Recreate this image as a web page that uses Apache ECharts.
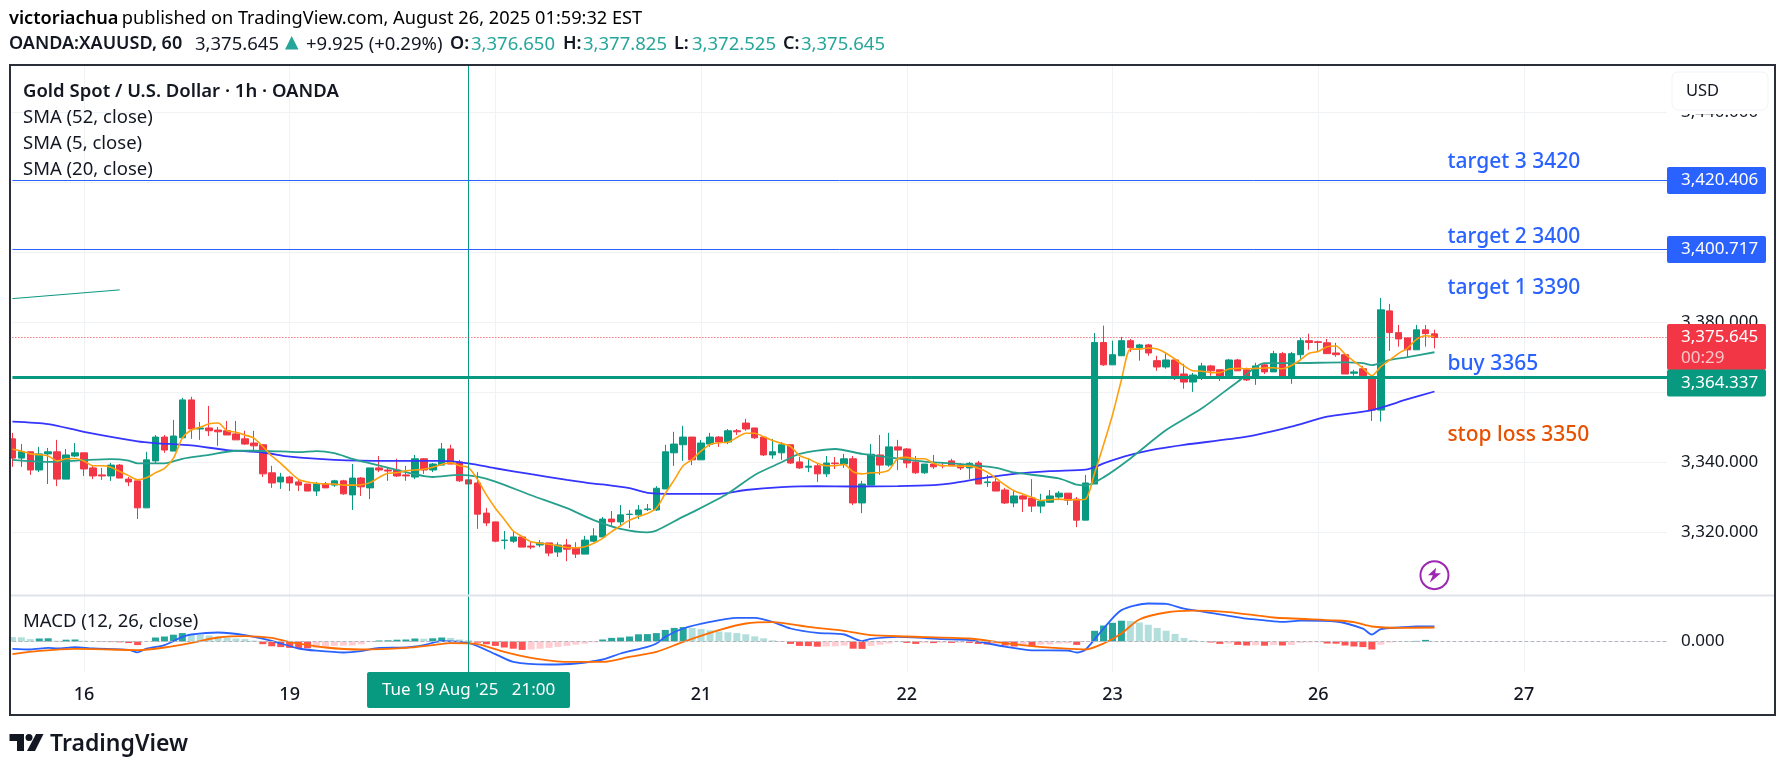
<!DOCTYPE html>
<html>
<head>
<meta charset="utf-8">
<title>OANDA:XAUUSD</title>
<script src="https://cdn.jsdelivr.net/npm/echarts@6/dist/echarts.min.js"></script>
<style>
html, body { margin: 0; padding: 0; background: #fff; }
#chart { width: 1785px; height: 770px; }
</style>
</head>
<body>
<div id="chart"></div>
<script>
// hourly candles
var opens = [
3346.7,3341.2,3343.0,3337.8,3342.4,3343.0,3335.2,3341.8,3342.7,3338.4,
3336.4,3336.1,3339.2,3335.2,3334.7,3327.0,3340.4,3347.2,3343.2,3347.0,
3357.8,3349.5,3349.8,3349.2,3349.0,3348.1,3346.7,3345.5,3345.0,3337.0,
3334.4,3335.8,3334.4,3333.8,3331.8,3333.8,3333.5,3334.7,3330.7,3335.5,
3332.7,3338.4,3337.8,3337.8,3336.4,3335.8,3341.0,3337.8,3339.2,3343.8,
3340.1,3335.0,3334.1,3325.5,3323.0,3317.7,3317.5,3318.7,3316.1,3316.4,
3317.0,3314.4,3316.4,3315.5,3313.8,3317.5,3318.7,3323.8,3323.0,3325.1,
3325.0,3326.5,3326.4,3332.4,3342.7,3345.0,3347.2,3340.7,3345.2,3347.2,
3345.8,3349.0,3351.2,3349.8,3347.2,3342.1,3342.7,3345.0,3340.1,3338.6,
3339.0,3336.7,3339.8,3339.5,3341.0,3328.4,3333.5,3342.1,3339.2,3344.4,
3343.8,3340.1,3337.0,3339.5,3339.1,3340.4,3339.2,3338.4,3339.8,3334.2,
3334.4,3332.1,3328.4,3330.4,3329.8,3327.5,3328.6,3330.1,3331.2,3329.5,
3323.5,3333.8,3374.2,3367.8,3370.4,3374.7,3372.7,3373.5,3369.0,3367.2,
3369.2,3365.2,3362.9,3363.9,3367.5,3366.4,3364.7,3369.2,3366.4,3364.0,
3367.8,3365.8,3371.0,3364.0,3370.7,3374.7,3374.4,3374.1,3371.2,3370.7,
3365.4,3366.7,3364.0,3354.9,3383.2,3377.0,3375.5,3372.1,3377.8,3376.65];
var closes = [
3341.2,3343.0,3337.8,3342.4,3343.0,3335.2,3342.1,3342.7,3338.1,3336.1,
3336.1,3339.2,3335.5,3334.4,3327.0,3340.7,3347.2,3343.5,3347.5,3357.8,
3349.5,3349.8,3349.0,3348.7,3347.8,3346.4,3345.2,3344.7,3336.7,3334.1,
3335.8,3334.1,3333.5,3331.8,3333.8,3332.7,3334.7,3331.0,3335.5,3333.0,
3338.4,3337.8,3337.5,3336.1,3336.1,3341.0,3337.8,3339.5,3343.8,3339.5,
3334.7,3333.8,3325.2,3322.7,3317.5,3317.8,3318.7,3315.8,3315.8,3317.0,
3314.1,3316.4,3315.2,3313.8,3317.8,3319.0,3323.8,3323.0,3325.0,3325.2,
3326.4,3326.7,3332.6,3343.0,3345.2,3347.2,3340.7,3345.5,3347.2,3345.8,
3349.0,3348.7,3349.5,3347.0,3342.1,3343.0,3345.0,3339.8,3338.4,3338.9,
3336.7,3339.8,3339.6,3341.0,3328.4,3333.8,3342.3,3339.2,3344.4,3343.5,
3339.8,3337.0,3339.5,3338.7,3339.0,3339.0,3338.4,3339.7,3333.8,3334.4,
3331.8,3328.4,3330.4,3329.5,3327.5,3328.9,3330.4,3331.2,3329.2,3323.5,
3334.1,3374.2,3367.8,3370.7,3374.7,3372.7,3373.5,3371.2,3367.2,3369.2,
3364.7,3362.9,3364.9,3367.5,3366.1,3364.1,3369.2,3366.1,3363.5,3367.5,
3365.8,3371.0,3364.4,3371.0,3374.7,3374.2,3374.2,3371.0,3370.7,3365.2,
3365.8,3364.7,3354.9,3383.5,3377.0,3375.2,3372.1,3377.8,3376.7,3375.645];
var lows = [
3338.7,3338.7,3336.4,3337.2,3333.8,3333.2,3335.2,3341.5,3336.1,3335.2,
3335.0,3334.7,3335.5,3333.2,3323.8,3327.0,3339.8,3342.7,3343.2,3347.0,
3346.7,3346.4,3347.5,3344.7,3347.8,3346.4,3345.0,3343.2,3335.8,3332.7,
3332.4,3331.8,3331.8,3331.8,3330.4,3332.7,3333.0,3330.7,3326.4,3330.4,
3329.5,3337.2,3334.7,3335.8,3334.7,3335.2,3336.7,3337.2,3339.2,3339.5,
3334.4,3333.8,3321.0,3321.8,3317.2,3315.2,3317.0,3315.8,3315.2,3315.8,
3313.2,3313.0,3311.8,3312.7,3313.8,3317.2,3318.7,3321.8,3321.8,3321.2,
3323.8,3326.1,3326.1,3332.4,3339.0,3340.4,3339.2,3340.7,3344.4,3344.4,
3345.2,3347.8,3349.0,3346.7,3341.8,3341.0,3340.7,3339.5,3338.1,3337.2,
3334.4,3335.8,3338.1,3338.4,3327.8,3325.5,3333.5,3336.4,3338.7,3337.8,
3338.4,3336.7,3336.7,3338.1,3338.3,3339.0,3337.8,3335.2,3333.8,3333.0,
3331.8,3328.1,3327.2,3325.8,3325.8,3325.5,3328.4,3329.2,3327.8,3321.5,
3323.5,3333.8,3367.5,3367.8,3370.4,3371.5,3369.0,3370.4,3366.1,3366.7,
3363.5,3361.0,3360.1,3363.5,3364.7,3363.2,3364.7,3366.1,3363.2,3362.1,
3365.2,3365.8,3363.8,3362.4,3369.5,3372.1,3371.5,3371.0,3370.1,3365.2,
3364.7,3364.7,3351.8,3351.6,3371.8,3373.0,3369.8,3372.1,3373.0,3372.525];
var highs = [
3348.4,3345.2,3343.0,3344.4,3344.1,3346.4,3343.8,3345.5,3342.7,3339.2,
3338.4,3339.8,3339.5,3335.8,3334.7,3343.0,3347.8,3347.8,3352.1,3358.4,
3358.7,3351.5,3356.1,3350.1,3351.8,3351.8,3349.0,3349.0,3345.2,3339.0,
3337.0,3336.1,3335.2,3333.8,3334.4,3334.4,3335.0,3335.0,3339.5,3335.8,
3338.4,3341.8,3338.4,3341.0,3339.0,3342.1,3341.2,3339.8,3345.5,3345.0,
3340.7,3335.0,3337.2,3327.0,3323.0,3320.4,3320.4,3319.2,3317.5,3317.8,
3317.0,3317.2,3318.1,3317.2,3319.0,3321.2,3324.4,3326.1,3327.8,3326.4,
3327.8,3328.1,3333.2,3345.0,3348.7,3350.4,3347.2,3346.4,3348.4,3347.5,
3349.5,3349.5,3352.4,3349.8,3347.2,3346.7,3345.8,3345.0,3341.5,3341.0,
3339.8,3341.8,3341.5,3342.4,3341.8,3334.7,3345.2,3347.8,3348.4,3346.4,
3344.1,3341.8,3339.5,3342.1,3339.8,3341.0,3339.8,3340.1,3340.4,3336.4,
3335.8,3332.7,3331.8,3330.7,3335.2,3331.0,3332.1,3331.8,3331.2,3330.1,
3336.4,3376.9,3379.0,3374.7,3375.8,3375.2,3373.8,3373.8,3370.4,3371.2,
3369.5,3368.1,3365.5,3368.4,3367.8,3366.4,3369.5,3369.5,3367.0,3368.4,
3368.1,3371.8,3371.5,3371.5,3375.5,3376.7,3374.7,3375.2,3374.1,3370.9,
3366.4,3367.5,3364.7,3386.9,3385.2,3379.2,3375.5,3379.2,3379.2,3377.825];

// SMA 5, one value per bar
var sma5 = [
3343.7,3343.2,3342.4,3342.2,3341.8,3340.4,3341.0,3341.1,3340.4,3339.0,
3339.0,3338.6,3337.4,3336.2,3335.0,3335.6,3337.0,3338.3,3341.1,3346.9,
3349.2,3350.0,3351.0,3351.2,3349.0,3348.6,3347.8,3346.9,3344.5,3341.8,
3339.7,3337.3,3335.1,3334.4,3334.0,3333.8,3333.8,3333.5,3333.5,3333.6,
3334.2,3335.7,3336.9,3337.0,3337.6,3337.8,3338.0,3338.6,3339.4,3339.9,
3339.0,3338.5,3335.1,3330.7,3326.9,3323.7,3320.4,3318.8,3317.3,3316.9,
3316.6,3316.2,3315.7,3315.6,3315.9,3316.9,3318.3,3320.2,3321.9,3323.5,
3324.5,3325.4,3326.9,3331.1,3335.0,3339.0,3340.8,3343.2,3345.1,3345.6,
3345.7,3347.1,3348.3,3348.3,3347.3,3346.2,3345.4,3344.5,3341.9,3341.0,
3339.7,3339.0,3339.0,3339.4,3337.3,3336.7,3337.0,3337.1,3337.8,3341.1,
3341.4,3341.0,3341.0,3339.7,3339.0,3339.0,3338.9,3338.9,3338.3,3337.2,
3335.4,3333.5,3331.9,3330.9,3330.0,3329.1,3329.3,3329.5,3329.3,3329.3,
3329.5,3336.9,3345.0,3353.5,3363.5,3372.3,3372.3,3372.6,3372.3,3371.1,
3369.4,3367.5,3366.1,3366.0,3365.6,3365.6,3366.6,3366.8,3366.7,3366.8,
3366.9,3367.0,3366.7,3367.6,3369.2,3371.1,3371.6,3373.0,3373.2,3370.9,
3368.8,3366.9,3364.7,3367.3,3369.2,3371.1,3372.6,3375.1,3376.1,3375.9];
// SMA 20 and SMA 52 as [bar, price] readings
var sma20 = [[0,3340.7],[4,3340.1],[8,3340.6],[11,3340.9],[13,3340.5],[14,3339.7],[17,3339.7],[19,3341.0],[22,3342.1],[25,3343.3],[27,3343.3],[30,3343.1],[32,3342.9],[34,3343.2],[36,3342.6],[38,3341.0],[40,3339.7],[43,3337.8],[47,3335.8],[50,3336.4],[52,3335.9],[54,3334.5],[58,3330.6],[62,3326.9],[65,3323.5],[68,3321.0],[71,3320.0],[72,3320.5],[75,3324.5],[76,3325.7],[80,3331.1],[83,3336.4],[86,3340.0],[88,3342.4],[92,3343.8],[95,3342.4],[98,3341.4],[102,3340.2],[105,3339.7],[110,3338.4],[112,3337.1],[117,3335.4],[119,3333.6],[120,3333.4],[122,3335.7],[125,3341.1],[129,3349.2],[133,3355.4],[137,3363.0],[140,3368.3],[143,3368.3],[149,3368.5],[151,3368.3],[152,3367.7],[154,3369.2],[156,3370.0],[159,3371.4]];
var sma52 = [[0,3351.6],[4,3350.9],[8,3348.7],[14,3346.0],[16,3345.5],[20,3344.8],[24,3343.5],[28,3342.8],[31,3341.6],[36,3340.7],[42,3340.4],[48,3340.4],[51,3339.7],[54,3338.3],[58,3336.6],[62,3335.0],[65,3333.9],[66,3333.7],[69,3332.6],[71,3331.3],[75,3331.0],[79,3331.0],[82,3332.1],[86,3332.9],[90,3333.2],[94,3333.1],[99,3333.2],[103,3333.5],[105,3334.0],[109,3335.7],[112,3336.7],[116,3337.5],[120,3337.9],[121,3338.6],[122,3339.7],[125,3342.1],[128,3343.8],[131,3345.0],[138,3347.3],[143,3350.2],[147,3353.0],[152,3354.9],[156,3358.0],[159,3360.2]];
var trendLine = [[0,3386.7],[12,3389.2]];

// MACD pane
var macdHist = [
1.1,1.05,.6,.75,.8,.2,.45,.5,.2,.05,
-.1,-.15,-.2,-.4,-.9,-.05,1.0,1.25,1.7,2.1,
1.9,1.75,1.5,1.25,1.0,.75,.6,.25,-.67,-1.2,
-1.4,-1.6,-1.67,-1.7,-1.6,-1.3,-1.1,-1.05,-1.0,-.7,
-.15,.25,.3,.45,.5,.75,.7,.8,1.0,.9,
.5,.3,-.3,-.7,-1.1,-1.5,-1.8,-2.1,-2.0,-1.8,
-1.6,-1.35,-1.1,-.8,-.55,-.2,.5,.9,1.0,1.25,
1.8,1.85,2.1,2.9,3.4,3.6,3.4,3.1,2.8,2.5,
2.3,2.1,1.8,1.3,.8,.3,-.05,-.6,-1.1,-1.15,
-1.3,-1.25,-1.2,-1.0,-1.8,-1.85,-1.1,-.8,-.5,-.05,
-.35,-.6,-.35,-.4,-.3,-.35,-.3,-.35,-.6,-.75,
-.65,-1,-1.25,-.85,-1.25,-.8,-.75,-.5,-.45,-.85,
-.15,2.67,4,4.67,5.2,5.15,4.75,4.2,3.4,2.7,
1.9,.9,.35,.05,-.25,-.6,-.5,-.85,-1,-.95,
-1.05,-.85,-1,-.85,-.35,-.25,-.2,-.5,-.55,-1,
-1.25,-1.4,-2,-.8,-.25,-.1,.05,.15,.4,.1];
var macdLine = [[0,-1.85],[2,-2],[4,-1.6],[5,-1.75],[7,-1.4],[9,-1.75],[13,-2.1],[14,-2.7],[15,-1.8],[17,-.9],[19,1.15],[20,1.75],[23,2.25],[26,1.6],[29,.15],[32,-1.75],[34,-2.3],[37,-2.75],[39,-2.4],[41,-1.6],[44,-1.5],[46,-.9],[48,.1],[51,-.35],[54,-3.15],[56,-5.1],[60,-5.75],[63,-5.5],[66,-4.5],[68,-3],[71,-1.35],[72,-.5],[73,1.15],[75,3.25],[78,4.9],[81,5.9],[83,5.9],[85,4.9],[87,3.25],[90,2.15],[93,1.75],[95,.1],[96,.65],[99,1.15],[104,.6],[107,.35],[111,-1.3],[114,-2.2],[118,-2.25],[119,-2.75],[120,-2],[122,3.25],[124,7.85],[127,9.5],[129,9.4],[131,8.2],[135,6.8],[138,5.7],[140,5.3],[142,4.9],[144,5.2],[148,5],[151,3.2],[152,1.75],[153,3.1],[155,3.5],[157,3.75],[159,3.8]];
var signalLine = [[0,-3.15],[3,-2.35],[7,-1.85],[11,-2],[14,-2.15],[17,-1.5],[20,-.35],[23,1],[26,1.35],[29,.9],[31,-.15],[35,-1.5],[39,-2],[44,-1.6],[47,-.9],[49,-.4],[52,-.65],[55,-2.6],[58,-4.1],[62,-5.1],[66,-5.1],[69,-3.85],[72,-2.6],[75,-.1],[79,2.85],[82,4.5],[85,4.85],[89,3.65],[93,2.65],[96,1.6],[100,1.25],[107,.75],[110,-.1],[114,-1.15],[117,-1.65],[120,-2],[122,-.5],[124,2],[126,5.5],[129,7.25],[132,7.7],[136,7.35],[141,6],[148,5.25],[150,4.85],[152,3.75],[155,3.4],[159,3.5]];

// axis
var barCount = 186;
var tickBars = [8, 31, 54, 77, 100, 123, 146, 169];
var tickLabels = ['16', '19', '', '21', '22', '23', '26', '27'];
var priceTicks = [3320, 3340, 3360, 3380, 3400, 3420, 3440];
var priceLabels = [3320, 3340, 3380, 3440];
var cursorBar = 51;

// drawn levels and notes
var target3 = 3420.406, target2 = 3400.717, buyLevel = 3364.337, lastPrice = 3375.645;
var noteTexts = ['target 3 3420', 'target 2 3400', 'target 1 3390', 'buy 3365', 'stop loss 3350'];
var notePrices = [3425.6, 3404.3, 3389.6, 3368.1, 3347.7];

var FONT = '"Noto Sans", sans-serif';
var INK = '#131722', TEAL = '#26a69a';
var UP = '#089981', DOWN = '#f23645', BLUE = '#2962ff';
var categories = [];
for (var i = 0; i < barCount; i++) {
    categories.push(String(i));
}
var candleData = [];
for (var j = 0; j < opens.length; j++) {
    candleData.push([opens[j], closes[j], lows[j], highs[j]]);
}

function isTick(index) {
    return tickBars.indexOf(index) >= 0;
}
function priceText(v) {
    return v.toLocaleString('en-US', {minimumFractionDigits: 3, maximumFractionDigits: 3});
}
function histColor(params) {
    var v = macdHist[params.dataIndex];
    var prev = params.dataIndex > 0 ? macdHist[params.dataIndex - 1] : v;
    if (v >= 0) {
        return prev < v ? '#26a69a' : '#b2dfdb';
    }
    return prev < v ? '#ffcdd2' : '#ff5252';
}
function tag(price, text, color) {
    return {
        coord: [barCount - 1, price],
        symbolSize: 0,
        label: {
            show: true, position: 'right', distance: 0, formatter: text,
            color: '#fff', fontFamily: FONT, fontSize: 17, backgroundColor: color,
            width: 78, height: 17, lineHeight: 17, padding: [5, 7, 5, 14], borderRadius: 2
        }
    };
}
function note(index) {
    return {
        coord: [160, notePrices[index]],
        symbolSize: 0,
        label: {
            show: true, position: 'right', distance: 4, formatter: noteTexts[index],
            color: index === 4 ? '#e65100' : BLUE, fontFamily: FONT, fontSize: 21, fontWeight: 500
        }
    };
}
function smaSeries(name, data, color, width) {
    return {
        name: name, type: 'line', data: data, xAxisIndex: 0, yAxisIndex: 0,
        symbol: 'none', smooth: 0.25, lineStyle: {color: color, width: width}, silent: true
    };
}
function macdSeries(name, data, color) {
    return {
        name: name, type: 'line', data: data, xAxisIndex: 1, yAxisIndex: 1,
        symbol: 'none', smooth: 0.25, lineStyle: {color: color, width: 1.8}, silent: true
    };
}
function label(x, y, text, weight, color, size) {
    return {
        type: 'text', z: 60, x: x, y: y, silent: true,
        style: {text: text, font: weight + ' ' + size + 'px ' + FONT, fill: color}
    };
}

var lastTag = tag(lastPrice, '3,375.645\n{t|00:29}', DOWN);
lastTag.label.height = 42;
lastTag.label.lineHeight = 21;
lastTag.label.padding = [3, 7, 1, 14];
lastTag.label.offset = [0, 9.5];
lastTag.label.rich = {t: {color: '#fbc4c9', fontFamily: FONT, fontSize: 17, lineHeight: 21}};
var buyTag = tag(buyLevel, priceText(buyLevel), UP);
buyTag.label.offset = [0, 6];

var option = {
    backgroundColor: '#fff',
    animation: false,
    grid: [
        {left: 12.4, right: 118, top: 66, height: 529.3},
        {left: 12.4, right: 118, top: 595.3, height: 76.7}
    ],
    xAxis: [0, 1].map(function (k) {
        return {
            type: 'category', gridIndex: k, data: categories, boundaryGap: false,
            axisLine: {show: false}, axisTick: {show: false},
            splitLine: {show: true, interval: isTick, lineStyle: {color: '#f0f3f5', width: 1}},
            axisLabel: k === 0 ? {show: false} : {
                show: true, interval: isTick, margin: 14, color: INK,
                fontFamily: FONT, fontSize: 18, fontWeight: 500,
                formatter: function (value, index) {
                    return tickLabels[tickBars.indexOf(index)];
                }
            }
        };
    }),
    yAxis: [
        {
            type: 'value', gridIndex: 0, position: 'right', min: 3302.05, max: 3453.08, scale: true,
            axisLine: {show: false},
            axisTick: {show: false, customValues: priceTicks},
            splitLine: {show: true, lineStyle: {color: '#f0f3f5', width: 1}},
            axisLabel: {
                show: true, customValues: priceLabels, margin: 14, color: INK,
                fontFamily: FONT, fontSize: 17, formatter: priceText
            }
        },
        {
            type: 'value', gridIndex: 1, position: 'right', min: -7.625, max: 11.55,
            axisLine: {show: false},
            axisTick: {show: false, customValues: [0]},
            splitLine: {show: false},
            axisLabel: {
                show: true, customValues: [0], margin: 14, color: INK,
                fontFamily: FONT, fontSize: 17, formatter: priceText
            }
        }
    ],
    series: [
        {
            name: 'XAUUSD', type: 'candlestick', data: candleData, xAxisIndex: 0, yAxisIndex: 0,
            barWidth: 7, clip: false, silent: true,
            itemStyle: {color: UP, color0: DOWN, borderColor: UP, borderColor0: DOWN, borderWidth: 1},
            markLine: {
                silent: true, symbol: 'none', animation: false, label: {show: false},
                data: [
                    {xAxis: categories[cursorBar], lineStyle: {color: UP, width: 1, type: 'solid'}},
                    {yAxis: target3, lineStyle: {color: BLUE, width: 1, type: 'solid'}},
                    {yAxis: target2, lineStyle: {color: BLUE, width: 1, type: 'solid'}},
                    {yAxis: lastPrice, lineStyle: {color: DOWN, width: 1, type: [1, 2]}},
                    {yAxis: buyLevel, lineStyle: {color: UP, width: 3, type: 'solid'}},
                    [{coord: trendLine[0], lineStyle: {color: UP, width: 1, type: 'solid'}},
                     {coord: trendLine[1]}]
                ]
            },
            markPoint: {
                silent: true, animation: false,
                data: [
                    note(0), note(1), note(2), note(3), note(4),
                    tag(target3, priceText(target3), BLUE),
                    tag(target2, priceText(target2), BLUE),
                    lastTag, buyTag,
                    {
                        coord: [159, 3307.8], symbol: 'circle', symbolSize: 28, label: {show: false},
                        itemStyle: {color: '#fff', borderColor: '#9c27b0', borderWidth: 2}
                    },
                    {
                        coord: [159, 3307.8], symbol: 'path://M7 0 L2 6 L5 6 L3 12 L10 4.5 L6.5 4.5 Z',
                        symbolSize: [13, 15], label: {show: false}, itemStyle: {color: '#9c27b0'}
                    }
                ]
            }
        },
        smaSeries('SMA 52', sma52, '#3535ff', 1.8),
        smaSeries('SMA 20', sma20, '#26a08c', 1.8),
        smaSeries('SMA 5', sma5, '#ff9f0a', 1.6),
        {
            name: 'Histogram', type: 'bar', data: macdHist, xAxisIndex: 1, yAxisIndex: 1,
            barWidth: 7, silent: true, itemStyle: {color: histColor},
            markLine: {
                silent: true, symbol: 'none', animation: false, label: {show: false},
                data: [
                    {yAxis: 0, lineStyle: {color: '#b2b5be', width: 1, type: 'dashed'}},
                    {xAxis: categories[cursorBar], lineStyle: {color: UP, width: 1, type: 'solid'}}
                ]
            },
            markPoint: {
                silent: true, animation: false,
                data: [{
                    coord: [cursorBar, -7.625], symbolSize: 0,
                    label: {
                        show: true, position: 'bottom', distance: 0,
                        formatter: "Tue 19 Aug '25   21:00",
                        color: '#fff', fontFamily: FONT, fontSize: 17, backgroundColor: UP,
                        width: 203, height: 36, lineHeight: 36, align: 'center', borderRadius: 2
                    }
                }]
            }
        },
        macdSeries('MACD', macdLine, BLUE),
        macdSeries('Signal', signalLine, '#ff6d00')
    ],
    graphic: [
        {
            type: 'rect', z: 50, silent: true, shape: {x: 10, y: 65, width: 1765, height: 650},
            style: {fill: 'none', stroke: '#2a2e39', lineWidth: 2}
        },
        {
            type: 'line', z: 40, silent: true, shape: {x1: 11, y1: 595.5, x2: 1774, y2: 595.5},
            style: {stroke: '#e0e3eb', lineWidth: 2}
        },
        {
            type: 'text', z: 60, x: 9, y: 10, silent: true,
            style: {
                text: '{b|victoriachua} {n|published on TradingView.com, August 26, 2025 01:59:32 EST}',
                rich: {
                    b: {font: '600 18.2px ' + FONT, color: INK},
                    n: {font: '400 18.2px ' + FONT, color: INK}
                }
            }
        },
        // symbol line, laid out piece by piece
        label(9, 35, 'OANDA:XAUUSD, 60', 600, INK, 18),
        label(195, 35, '3,375.645', 400, INK, 18.5),
        {type: 'polygon', z: 60, silent: true, shape: {points: [[285, 49.5], [298.5, 49.5], [291.7, 36]]}, style: {fill: TEAL}},
        label(306, 35, '+9.925 (+0.29%)', 400, INK, 18.5),
        label(450, 35, 'O:', 600, INK, 18),
        label(471, 35, '3,376.650', 400, TEAL, 18.5),
        label(563, 35, 'H:', 600, INK, 18),
        label(583, 35, '3,377.825', 400, TEAL, 18.5),
        label(674, 35, 'L:', 600, INK, 18),
        label(692, 35, '3,372.525', 400, TEAL, 18.5),
        label(783, 35, 'C:', 600, INK, 18),
        label(801, 35, '3,375.645', 400, TEAL, 18.5),
        // pane legends
        label(23, 82, 'Gold Spot / U.S. Dollar \u00b7 1h \u00b7 OANDA', 600, INK, 18.5),
        label(23, 108, 'SMA (52, close)', 400, INK, 18.5),
        label(23, 134, 'SMA (5, close)', 400, INK, 18.5),
        label(23, 160, 'SMA (20, close)', 400, INK, 18.5),
        label(23, 612, 'MACD (12, 26, close)', 400, INK, 18.5),
        // price axis mask behind the currency button
        {type: 'rect', z: 54, silent: true, shape: {x: 1668, y: 67, width: 106, height: 47}, style: {fill: '#fff'}},
        {
            type: 'rect', z: 55, silent: true, shape: {x: 1672, y: 72, width: 96, height: 38, r: 6},
            style: {fill: '#fff', stroke: '#f0f3fa', lineWidth: 1}
        },
        label(1686, 83, 'USD', 400, INK, 16.5),
        // TradingView mark and name under the frame
        {type: 'polygon', z: 60, silent: true, shape: {points: [[9.5, 734], [24, 734], [24, 751], [17, 751], [17, 741], [9.5, 741]]}, style: {fill: INK}},
        {type: 'circle', z: 60, silent: true, shape: {cx: 29, cy: 737.5, r: 3.5}, style: {fill: INK}},
        {type: 'polygon', z: 60, silent: true, shape: {points: [[36, 734], [43.5, 734], [35, 751], [27, 751]]}, style: {fill: INK}},
        label(50, 733, 'TradingView', 600, INK, 23)
    ]
};

var myChart = echarts.init(document.getElementById('chart'), null, {renderer: 'canvas'});
myChart.setOption(option);
</script>
</body>
</html>
